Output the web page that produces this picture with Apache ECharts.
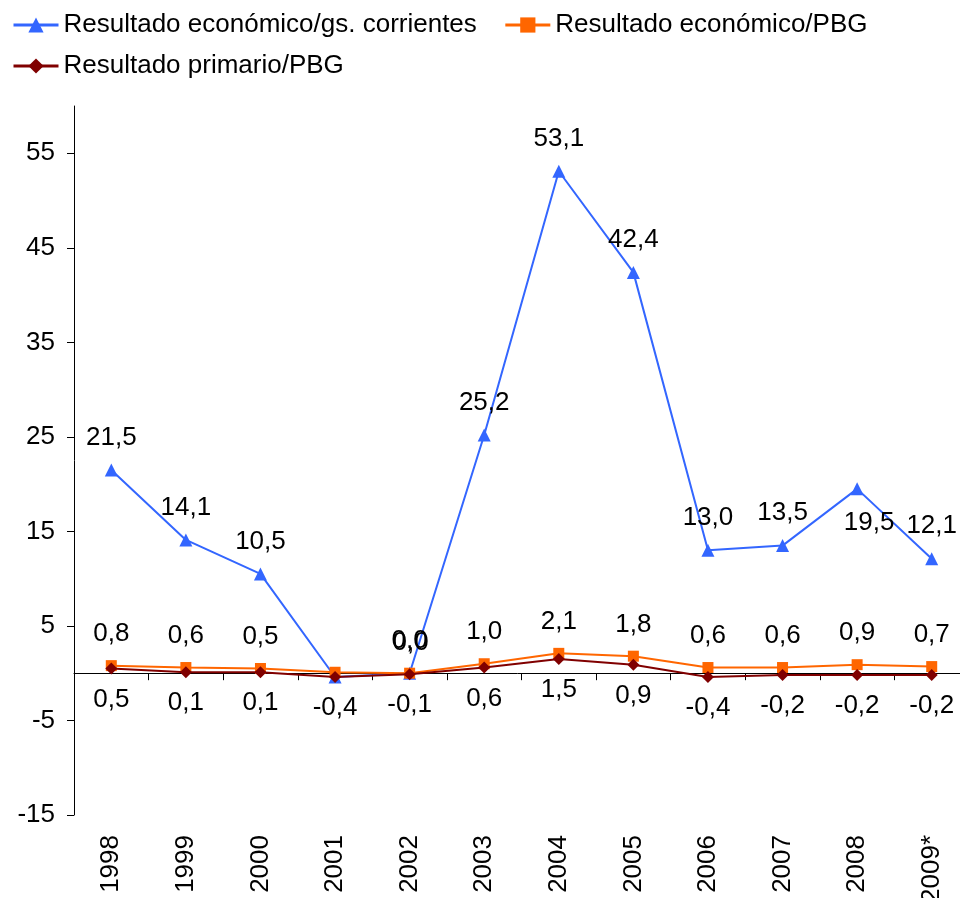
<!DOCTYPE html>
<html>
<head>
<meta charset="utf-8">
<script src="https://cdn.jsdelivr.net/npm/echarts@6/dist/echarts.min.js"></script>
<style>
  html, body { margin: 0; padding: 0; background: #fff; }
  #chart { width: 960px; height: 898px; }
</style>
</head>
<body>
<div id="chart"></div>
<script>
// datos
const years = ["1998", "1999", "2000", "2001", "2002", "2003", "2004", "2005", "2006", "2007", "2008", "2009*"];
const resEconGs = [21.5, 14.1, 10.5, -0.4, 0.0, 25.2, 53.1, 42.4, 13.0, 13.5, 19.5, 12.1];
const resEconPbg = [0.8, 0.6, 0.5, 0.1, 0.0, 1.0, 2.1, 1.8, 0.6, 0.6, 0.9, 0.7];
const resPrimPbg = [0.5, 0.1, 0.1, -0.4, -0.1, 0.6, 1.5, 0.9, -0.4, -0.2, -0.2, -0.2];
const yTicks = [-15, -5, 5, 15, 25, 35, 45, 55];

const names = [
  "Resultado económico/gs. corrientes",
  "Resultado económico/PBG",
  "Resultado primario/PBG"
];

const font = "Liberation Sans";
const fmt = p => p.value.toFixed(1).replace(".", ",");

// etiquetas ocultas / movidas
function withLabels(values, hidden, moved) {
  return values.map((v, i) => {
    if (hidden.indexOf(i) >= 0) return { value: v, label: { show: false } };
    if (moved[i]) return { value: v, label: moved[i] };
    return v;
  });
}

const chart = echarts.init(document.getElementById("chart"));

const labelBase = {
  show: true,
  color: "#000",
  fontFamily: font,
  fontSize: 26,
  formatter: fmt
};

chart.setOption({
  animation: false,
  backgroundColor: "#fff",
  legend: [
    {
      left: 7,
      top: 7,
      itemWidth: 45,
      itemHeight: 19,
      itemGap: 27,
      lineStyle: { width: 3 },
      data: [names[0], names[1]],
      textStyle: { fontFamily: font, fontSize: 26, color: "#000" }
    },
    {
      left: 7,
      top: 48,
      itemWidth: 45,
      itemHeight: 19,
      lineStyle: { width: 3 },
      data: [names[2]],
      textStyle: { fontFamily: font, fontSize: 26, color: "#000" }
    }
  ],
  grid: {
    left: 74,
    right: -9,
    top: 106,
    bottom: 83,
    containLabel: false,
    outerBoundsMode: "none"
  },
  xAxis: [
    {
      type: "category",
      data: years,
      boundaryGap: true,
      axisLine: { show: false, onZero: false },
      axisTick: { show: false },
      axisLabel: {
        rotate: 90,
        margin: 20,
        color: "#000",
        fontFamily: font,
        fontSize: 26
      }
    },
    {
      type: "category",
      data: years,
      position: "bottom",
      boundaryGap: true,
      axisLine: { show: true, onZero: true, lineStyle: { color: "#000", width: 1 } },
      axisTick: { show: true, length: 7, lineStyle: { color: "#000" } },
      axisLabel: { show: false }
    }
  ],
  yAxis: {
    type: "value",
    min: -15,
    max: 60,
    splitLine: { show: false },
    axisLine: { show: true, lineStyle: { color: "#000", width: 1 } },
    axisTick: { show: true, length: 7, customValues: yTicks, lineStyle: { color: "#000" } },
    axisLabel: {
      customValues: yTicks,
      margin: 19,
      color: "#000",
      fontFamily: font,
      fontSize: 26
    }
  },
  series: [
    {
      name: names[0],
      type: "line",
      xAxisIndex: 0,
      data: withLabels(resEconGs, [3], {
        10: { position: "bottom", distance: 14, offset: [12, 0] }
      }),
      symbol: "triangle",
      symbolSize: 13,
      color: "#3366FF",
      lineStyle: { color: "#3366FF", width: 2 },
      itemStyle: { color: "#3366FF" },
      label: Object.assign({}, labelBase, { position: "top", distance: 13 }),
      z: 2
    },
    {
      name: names[1],
      type: "line",
      xAxisIndex: 0,
      data: withLabels(resEconPbg, [3], {
        4: { offset: [1, 1] }
      }),
      symbol: "rect",
      symbolSize: 11,
      color: "#FF6600",
      lineStyle: { color: "#FF6600", width: 2 },
      itemStyle: { color: "#FF6600" },
      label: Object.assign({}, labelBase, { position: "top", distance: 13 }),
      z: 3
    },
    {
      name: names[2],
      type: "line",
      xAxisIndex: 0,
      data: resPrimPbg,
      symbol: "diamond",
      symbolSize: 12,
      color: "#800000",
      lineStyle: { color: "#800000", width: 2 },
      itemStyle: { color: "#800000" },
      label: Object.assign({}, labelBase, { position: "bottom", distance: 12 }),
      z: 4
    }
  ]
});
</script>
</body>
</html>
